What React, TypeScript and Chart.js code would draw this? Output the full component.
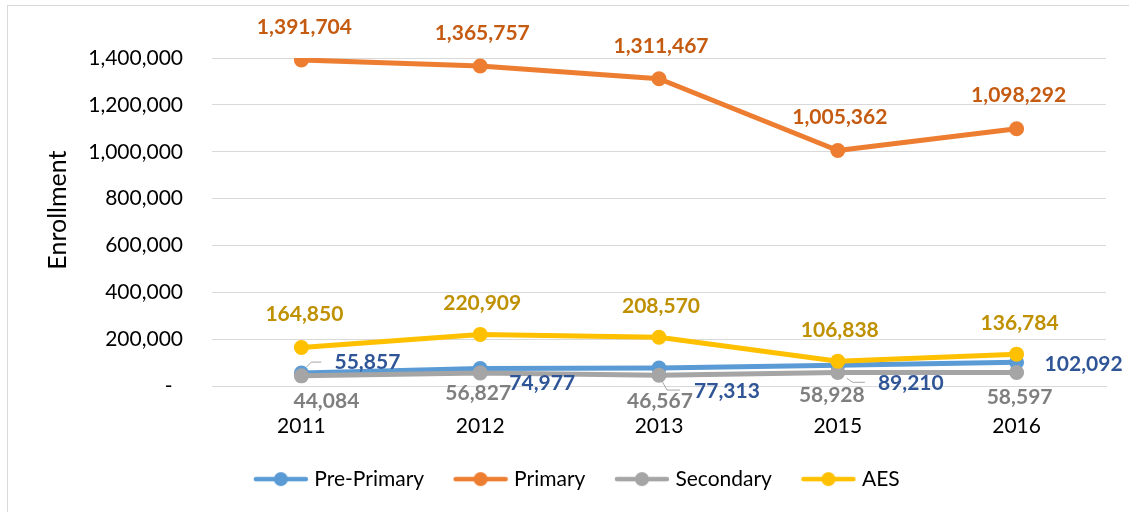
import React, { useEffect, useRef } from 'react';
import { Chart, registerables } from 'chart.js';

Chart.register(...registerables);

// ---------------- data ----------------
const categories = ['2011', '2012', '2013', '2015', '2016'];
const seriesNames = ['Pre-Primary', 'Primary', 'Secondary', 'AES'];
const prePrimary = [55857, 74977, 77313, 89210, 102092];
const primary = [1391704, 1365757, 1311467, 1005362, 1098292];
const secondary = [44084, 56827, 46567, 58928, 58597];
const aes = [164850, 220909, 208570, 106838, 136784];
const yTickValues = [0, 200000, 400000, 600000, 800000, 1000000, 1200000, 1400000];

// ---------------- styling ----------------
const FONT = 'Lato';
const lineColors = ['#5B9BD5', '#ED7D31', '#A5A5A5', '#FFC000'];
const labelColors = ['#2F5597', '#C55A11', '#7F7F7F', '#BF9000'];
// label centre offsets (px) from each point, as placed in the reference
const labelOffsets: number[][][] = [
  [[66, -11], [62, 15], [68, 23], [73, 18], [67, 2]],
  [[3, -33], [2, -33], [2, -33], [2, -33], [2, -33]],
  [[25, 25], [-2, 20], [1, 26], [-6, 23], [3, 25]],
  [[3, -33], [2, -31], [2, -31], [2, -30.5], [3, -30.5]],
];
// leader lines (relative polylines) for some labels: [series, index, points]
const leaders: [number, number, number[][]][] = [
  [0, 0, [[5, -6], [10, -11], [20, -11]]],
  [0, 2, [[3, 13], [8, 22], [21, 22]]],
  [0, 3, [[9, 13], [15, 17], [27, 17]]],
];
const drawOrder = [3, 2, 1, 0];

const fmt = (v: number) => v.toLocaleString('en-US');

function makeLegendImage(color: string) {
  const c = document.createElement('canvas');
  c.width = 56;
  c.height = 16;
  const ctx = c.getContext('2d')!;
  ctx.strokeStyle = color;
  ctx.lineWidth = 4.5;
  ctx.lineCap = 'round';
  ctx.beginPath();
  ctx.moveTo(3, 8);
  ctx.lineTo(53, 8);
  ctx.stroke();
  ctx.fillStyle = color;
  ctx.beginPath();
  ctx.arc(28, 8, 7, 0, Math.PI * 2);
  ctx.fill();
  return c;
}

const labelPlugin = {
  id: 'customLabels',
  beforeDatasetsDraw(chart: any) {
    const ctx = chart.ctx;
    ctx.save();
    ctx.strokeStyle = '#A6A6A6';
    ctx.lineWidth = 1;
    leaders.forEach(([si, idx, pts]) => {
      const el = chart.getDatasetMeta(si).data[idx];
      if (!el) return;
      ctx.beginPath();
      pts.forEach(([dx, dy], k) => {
        if (k === 0) ctx.moveTo(el.x + dx, el.y + dy);
        else ctx.lineTo(el.x + dx, el.y + dy);
      });
      ctx.stroke();
    });
    ctx.restore();
  },
  afterDatasetsDraw(chart: any) {
    const ctx = chart.ctx;
    ctx.save();
    ctx.font = `bold 21px ${FONT}`;
    ctx.textAlign = 'center';
    ctx.textBaseline = 'middle';
    chart.data.datasets.forEach((ds: any, i: number) => {
      const meta = chart.getDatasetMeta(i);
      meta.data.forEach((el: any, j: number) => {
        const [dx, dy] = labelOffsets[i][j];
        ctx.fillStyle = labelColors[i];
        ctx.fillText(fmt(ds.data[j]), el.x + dx, el.y + dy);
      });
    });
    ctx.restore();
  },
  afterDraw(chart: any) {
    const ctx = chart.ctx;
    const area = chart.chartArea;
    ctx.save();
    ctx.font = `25px ${FONT}`;
    ctx.fillStyle = '#000';
    ctx.textAlign = 'center';
    ctx.textBaseline = 'alphabetic';
    ctx.translate(58, (area.top + area.bottom) / 2 - 12);
    ctx.rotate(-Math.PI / 2);
    ctx.fillText('Enrollment', 0, 0);
    ctx.restore();
  },
};

export default function App() {
  const ref = useRef<HTMLCanvasElement>(null);

  useEffect(() => {
    if (!ref.current) return;
    const allData = [prePrimary, primary, secondary, aes];
    const legendImages = lineColors.map(makeLegendImage);
    const chart = new Chart(ref.current, {
      type: 'line',
      data: {
        labels: categories,
        datasets: allData.map((d, i) => ({
          label: seriesNames[i],
          data: d,
          borderColor: lineColors[i],
          backgroundColor: lineColors[i],
          pointBackgroundColor: lineColors[i],
          pointBorderWidth: 0,
          pointRadius: 7.5,
          borderWidth: 5,
          borderJoinStyle: 'round' as const,
          borderCapStyle: 'round' as const,
          tension: 0,
          fill: false,
          order: drawOrder[i],
        })),
      },
      options: {
        responsive: false,
        animation: false,
        events: [],
        layout: { padding: { top: 52, right: 23, left: 43.5, bottom: 12.4 } },
        scales: {
          x: {
            offset: true,
            grid: { display: false, drawTicks: false },
            border: { display: true, color: '#D9D9D9', width: 1 },
            ticks: { color: '#000', font: { family: FONT, size: 21 }, padding: 27.4, maxRotation: 0 },
            afterFit: (s: any) => { s.height = 48.9; },
          },
          y: {
            min: 0,
            max: 1400000,
            afterBuildTicks: (s: any) => { s.ticks = yTickValues.map((v) => ({ value: v })); },
            grid: { color: '#D9D9D9', lineWidth: 1, drawTicks: false },
            border: { display: false },
            ticks: {
              color: '#000',
              font: { family: FONT, size: 21 },
              padding: 29,
              callback: (v: any) => (Number(v) === 0 ? '-\u2002' : fmt(Number(v))),
            },
            afterFit: (s: any) => { s.width = 160.5; },
          },
        },
        plugins: {
          tooltip: { enabled: false },
          title: { display: false },
          legend: {
            position: 'bottom',
            labels: {
              usePointStyle: true,
              pointStyleWidth: 46,
              padding: 33.5,
              color: '#000',
              font: { family: FONT, size: 21 },
              sort: (a: any, b: any) => a.datasetIndex - b.datasetIndex,
              generateLabels: (c: any) =>
                (Chart.defaults.plugins.legend.labels.generateLabels as any)(c).map((l: any) => ({
                  ...l,
                  pointStyle: legendImages[l.datasetIndex],
                })),
            },
          },
        },
      },
      plugins: [labelPlugin],
    });
    return () => chart.destroy();
  }, []);

  return (
    <div
      style={{
        position: 'absolute',
        left: 7,
        top: 5,
        right: 0,
        bottom: 0,
        borderTop: '1px solid #D9D9D9',
        borderLeft: '1px solid #D9D9D9',
        background: '#fff',
        overflow: 'hidden',
      }}
    >
      <canvas ref={ref} width={1121} height={506} style={{ display: 'block' }} />
    </div>
  );
}
